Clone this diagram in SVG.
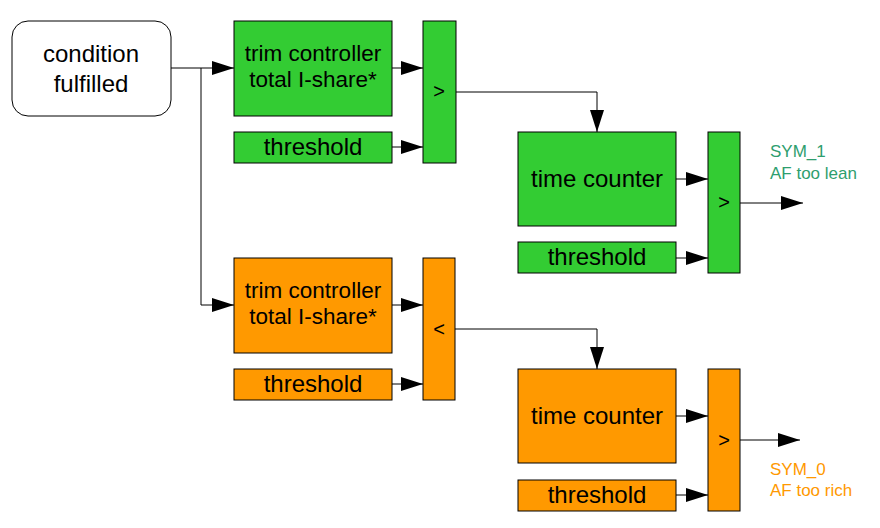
<svg xmlns="http://www.w3.org/2000/svg" width="880" height="528" viewBox="0 0 880 528">
<style>
.g{fill:#33cc33;stroke:#000;stroke-width:1}
.o{fill:#ff9900;stroke:#000;stroke-width:1}
.t{font-family:"Liberation Sans",Arial,sans-serif;font-size:24px;fill:#000;text-anchor:middle}
.tt{font-family:"Liberation Sans",Arial,sans-serif;font-size:22.5px;fill:#000;text-anchor:middle}
.s{font-family:"Liberation Sans",Arial,sans-serif;font-size:17px}
.c{font-family:"Liberation Sans",Arial,sans-serif;font-size:20px;fill:#000;text-anchor:middle}
.l{fill:none;stroke:#000;stroke-width:1}
</style>
<defs>
<marker id="a" markerUnits="userSpaceOnUse" markerWidth="22" markerHeight="14" refX="22" refY="7" orient="auto">
<path d="M0,0 L22,7 L0,14 z" fill="#000"/>
</marker>
</defs>
<rect width="880" height="528" fill="#fff"/>
<g id="connectors">
<path class="l" d="M171,68 H234" marker-end="url(#a)"/>
<path class="l" d="M201,68 V305 H234" marker-end="url(#a)"/>
<path class="l" d="M392,68 H423" marker-end="url(#a)"/>
<path class="l" d="M392,147 H423" marker-end="url(#a)"/>
<path class="l" d="M456,92 H597 V132" marker-end="url(#a)"/>
<path class="l" d="M676,179 H708" marker-end="url(#a)"/>
<path class="l" d="M676,258 H708" marker-end="url(#a)"/>
<path class="l" d="M740,203 H803" marker-end="url(#a)"/>
<path class="l" d="M392,305 H423" marker-end="url(#a)"/>
<path class="l" d="M392,384 H423" marker-end="url(#a)"/>
<path class="l" d="M455,329 H597 V369" marker-end="url(#a)"/>
<path class="l" d="M676,416 H708" marker-end="url(#a)"/>
<path class="l" d="M676,495 H708" marker-end="url(#a)"/>
<path class="l" d="M740,440 H800" marker-end="url(#a)"/>
</g>
<g id="condition">
<rect x="12" y="21" width="159" height="95" rx="16" fill="#fff" stroke="#000"/>
<text class="t" x="91" y="62">condition</text>
<text class="t" x="91" y="92">fulfilled</text>
</g>
<g id="trim-green">
<rect class="g" x="234" y="21" width="158" height="95"/>
<text class="tt" x="313" y="61">trim controller</text>
<text class="tt" x="313" y="87">total I-share*</text>
</g>
<g id="threshold-green-1">
<rect class="g" x="234" y="132" width="158" height="31"/>
<text class="t" x="313" y="155">threshold</text>
</g>
<g id="cmp-green-1">
<rect class="g" x="423" y="21" width="33" height="142"/>
<text class="c" x="439" y="98">&gt;</text>
</g>
<g id="timecounter-green">
<rect class="g" x="518" y="132" width="158" height="94"/>
<text class="t" x="597" y="187">time counter</text>
</g>
<g id="threshold-green-2">
<rect class="g" x="518" y="242" width="158" height="31"/>
<text class="t" x="597" y="265">threshold</text>
</g>
<g id="cmp-green-2">
<rect class="g" x="708" y="132" width="32" height="141"/>
<text class="c" x="724" y="209">&gt;</text>
</g>
<g id="sym1">
<text class="s" x="770" y="157" fill="#2e9e6e">SYM_1</text>
<text class="s" x="770" y="179" fill="#2e9e6e">AF too lean</text>
</g>
<g id="trim-orange">
<rect class="o" x="234" y="258" width="158" height="95"/>
<text class="tt" x="313" y="298">trim controller</text>
<text class="tt" x="313" y="324">total I-share*</text>
</g>
<g id="threshold-orange-1">
<rect class="o" x="234" y="369" width="158" height="31"/>
<text class="t" x="313" y="392">threshold</text>
</g>
<g id="cmp-orange-1">
<rect class="o" x="423" y="258" width="32" height="142"/>
<text class="c" x="439" y="336">&lt;</text>
</g>
<g id="timecounter-orange">
<rect class="o" x="518" y="369" width="158" height="94"/>
<text class="t" x="597" y="424">time counter</text>
</g>
<g id="threshold-orange-2">
<rect class="o" x="518" y="480" width="158" height="31"/>
<text class="t" x="597" y="503">threshold</text>
</g>
<g id="cmp-orange-2">
<rect class="o" x="708" y="369" width="32" height="142"/>
<text class="c" x="724" y="447">&gt;</text>
</g>
<g id="sym0">
<text class="s" x="770" y="475" fill="#ff9900">SYM_0</text>
<text class="s" x="770" y="496" fill="#ff9900">AF too rich</text>
</g>
</svg>
